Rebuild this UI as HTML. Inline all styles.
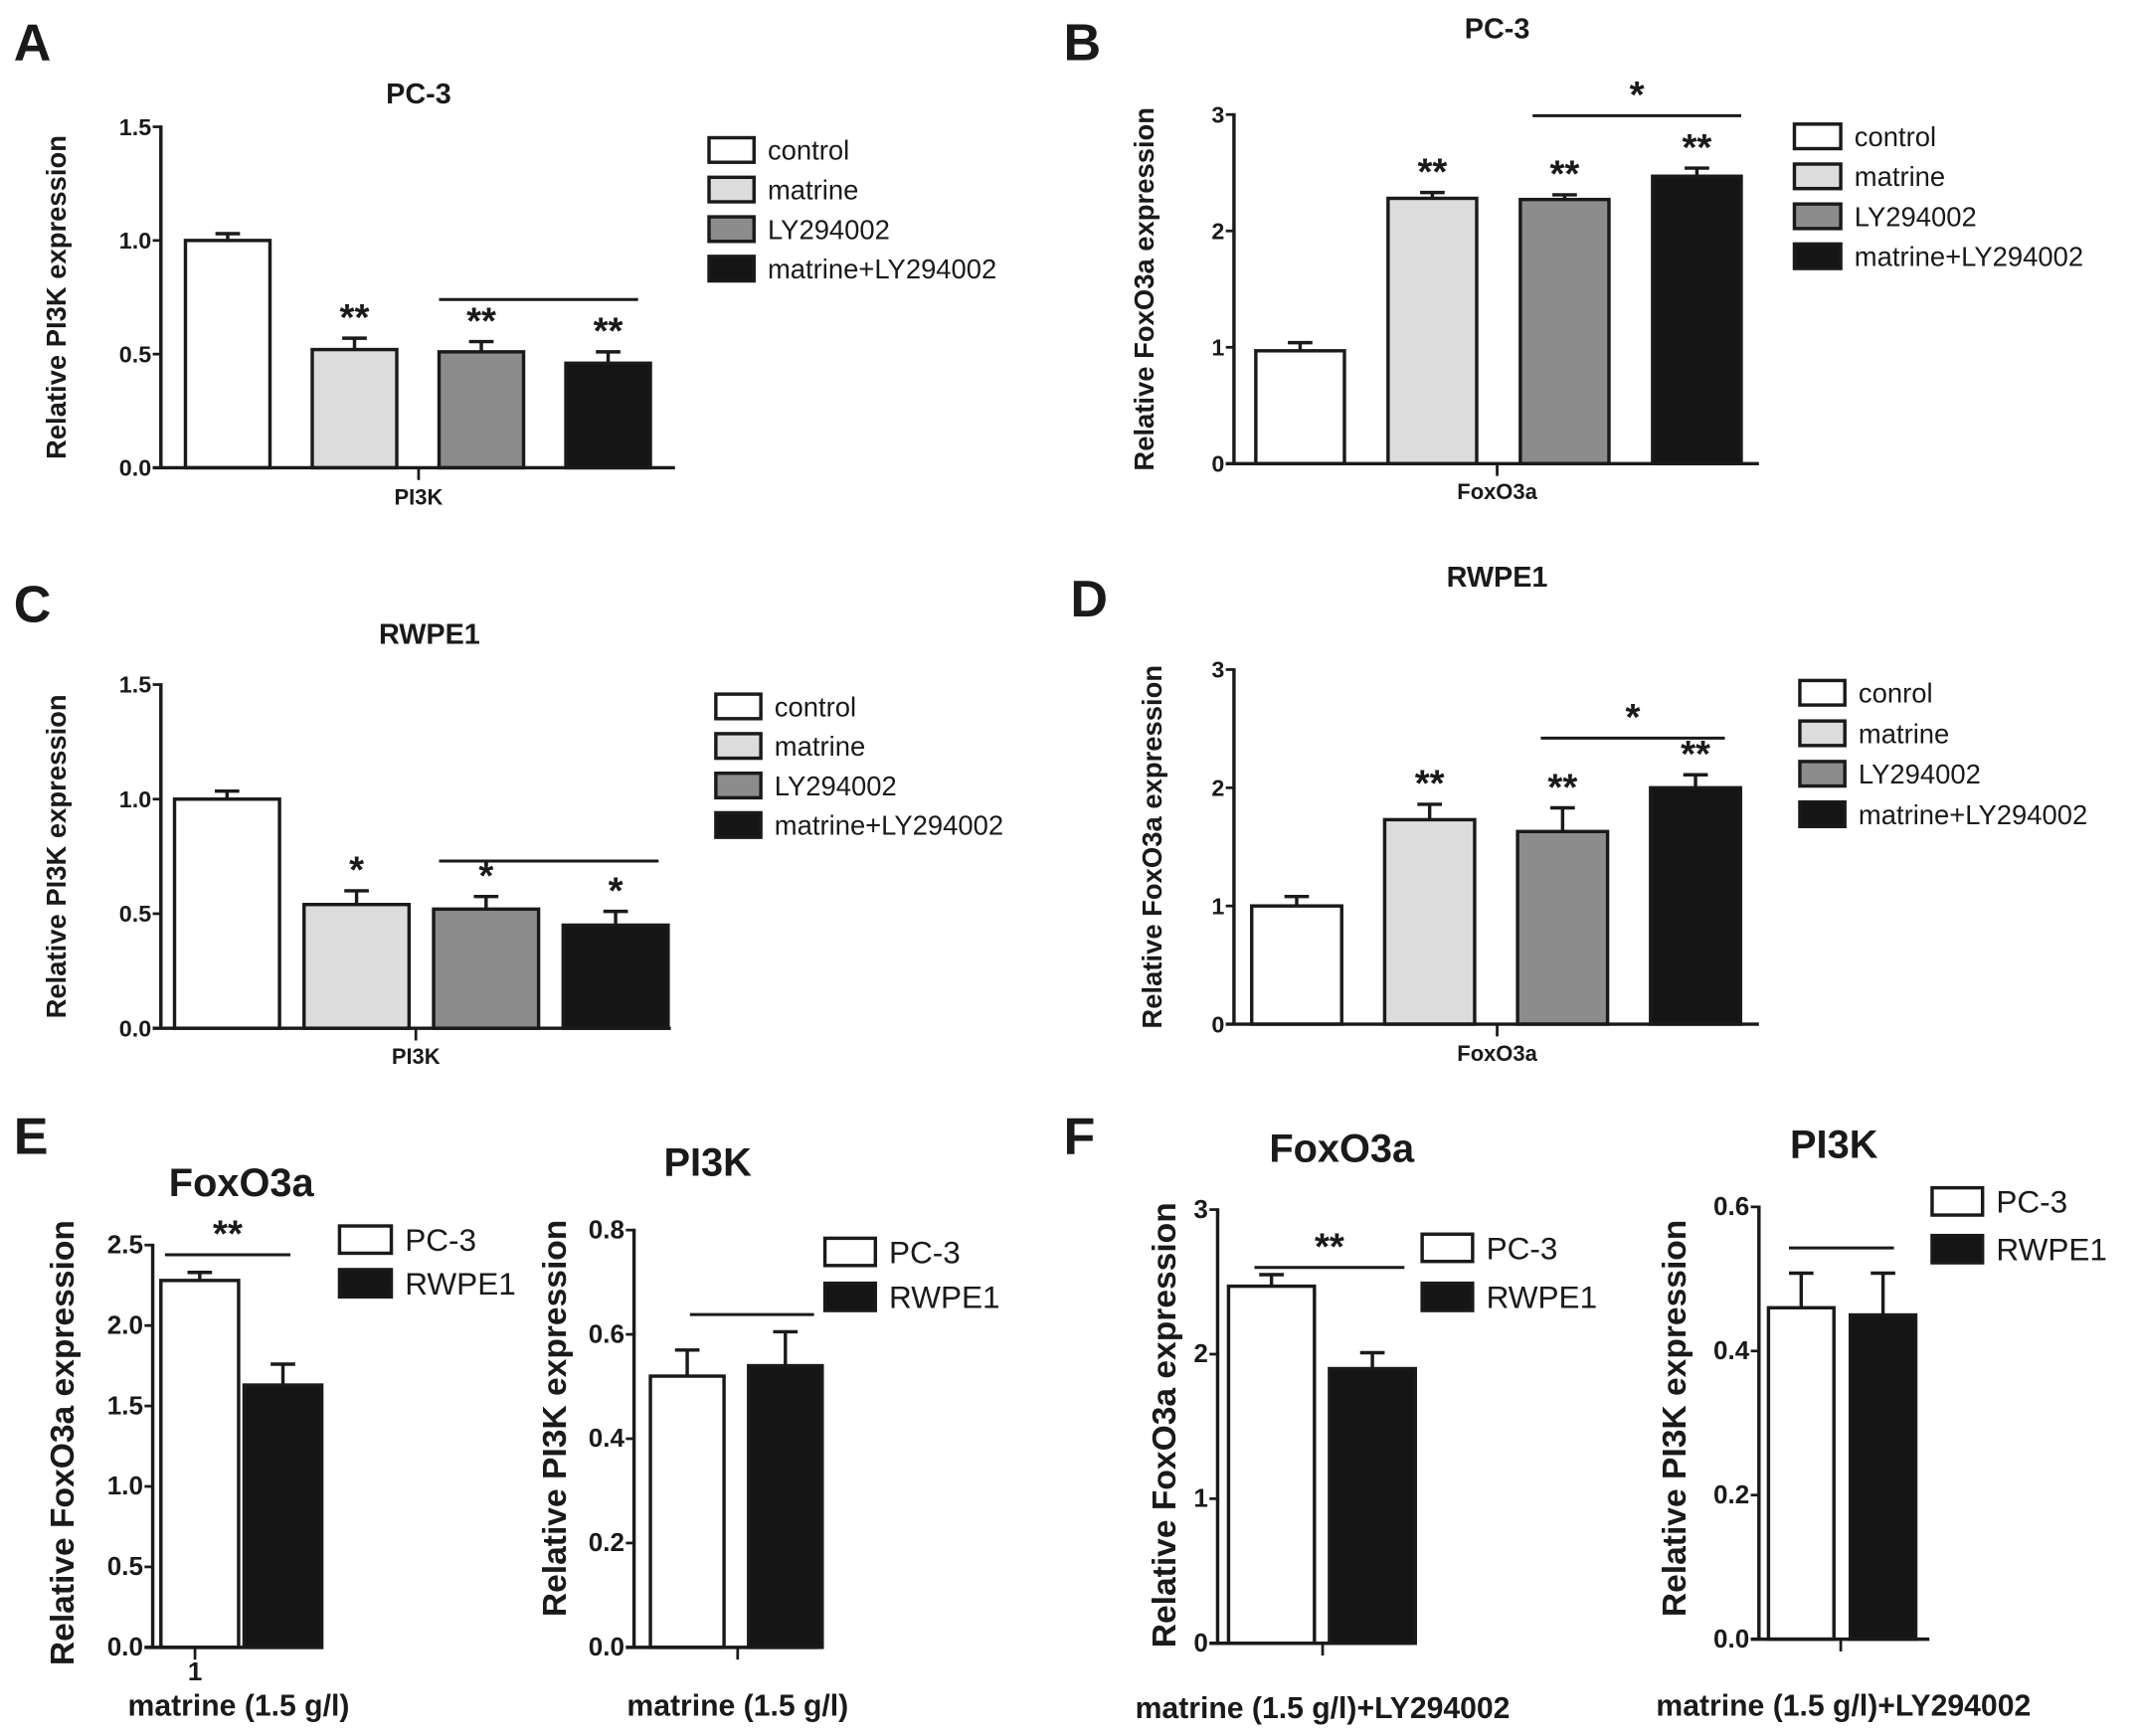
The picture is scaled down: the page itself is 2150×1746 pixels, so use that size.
<!DOCTYPE html>
<html><head><meta charset="utf-8"><style>
html,body{margin:0;padding:0;background:#fff}
svg{display:block}
text{font-family:"Liberation Sans Narrow","Liberation Sans",sans-serif;fill:#1a1a1a}
</style></head><body>
<svg id="fig" width="2150" height="1746" viewBox="0 0 1568 1273" preserveAspectRatio="none" xmlns="http://www.w3.org/2000/svg"></svg>
<script>
// ---------- data ----------
const groupCats = ["control","matrine","LY294002","matrine+LY294002"];
const groupCatsD = ["conrol","matrine","LY294002","matrine+LY294002"];
const cellCats = ["PC-3","RWPE1"];
const groupFills = ["#ffffff","#dcdcdc","#8c8c8c","#151515"];
const cellFills = ["#ffffff","#151515"];

const aValues = [1.0, 0.52, 0.51, 0.46];
const aErrors = [0.03, 0.05, 0.045, 0.05];
const aStars = ["", "**", "**", "**"];
const aTicks = ["0.0","0.5","1.0","1.5"];

const bValues = [0.97, 2.28, 2.27, 2.47];
const bErrors = [0.07, 0.05, 0.04, 0.07];
const bStars = ["", "**", "**", "**"];
const bTicks = ["0","1","2","3"];

const cValues = [1.0, 0.54, 0.52, 0.45];
const cErrors = [0.035, 0.06, 0.055, 0.06];
const cStars = ["", "*", "*", "*"];
const cTicks = ["0.0","0.5","1.0","1.5"];

const dValues = [1.0, 1.73, 1.63, 2.0];
const dErrors = [0.08, 0.13, 0.2, 0.11];
const dStars = ["", "**", "**", "**"];
const dTicks = ["0","1","2","3"];

const e1Values = [2.28, 1.63];
const e1Errors = [0.05, 0.13];
const e1Ticks = ["0.0","0.5","1.0","1.5","2.0","2.5"];
const e2Values = [0.52, 0.54];
const e2Errors = [0.05, 0.065];
const e2Ticks = ["0.0","0.2","0.4","0.6","0.8"];
const f1Values = [2.47, 1.9];
const f1Errors = [0.08, 0.11];
const f1Ticks = ["0","1","2","3"];
const f2Values = [0.46, 0.45];
const f2Errors = [0.048, 0.058];
const f2Ticks = ["0.0","0.2","0.4","0.6"];

// ---------- drawing ----------
const svg = document.getElementById('fig');
const NS = "http://www.w3.org/2000/svg";
function mk(tag, attrs, parent){
  const e = document.createElementNS(NS, tag);
  for (const k in attrs) e.setAttribute(k, attrs[k]);
  (parent||svg).appendChild(e);
  return e;
}
function txt(s, x, y, size, opts, parent){
  const t = mk('text', Object.assign({x:x, y:y, 'font-size':size}, opts||{}), parent);
  t.textContent = s;
  return t;
}

function panel(p){
  const g = mk('g', {});
  
  
  const yMax = parseFloat(p.ticks[p.ticks.length-1]);
  const ys = v => p.y0 - (v / yMax) * (p.y0 - p.yTop);
  const xs = i => p.barX + i * p.step;
  p.values.forEach((v, i) => {
    const x = xs(i), yv = ys(v), ye = ys(v + p.errors[i]), cx = x + p.barW/2;
    const eb = mk('line', {x1:cx, y1:yv, x2:cx, y2:ye, stroke:'#1a1a1a','stroke-width':2.5}, g);
    
    
    const cap = mk('line', {x1:cx-9, y1:ye, x2:cx+9, y2:ye, stroke:'#1a1a1a','stroke-width':2.5}, g);
    
    
    const r = mk('rect', {x:x, y:yv, width:p.barW, height:p.y0-yv, fill:p.fills[i], stroke:'#1a1a1a','stroke-width':2.5}, g);
    
    
    if (p.stars && p.stars[i]) {
      const st = txt(p.stars[i], cx, ye - 6, 28, {'text-anchor':'middle','font-weight':'bold'}, g);
      
      
    }
  });
  const ya = mk('line', {x1:p.axisX, y1:p.yTop-1, x2:p.axisX, y2:p.y0+1, stroke:'#1a1a1a','stroke-width':2.5}, g);
  
  
  const xa = mk('line', {x1:p.axisX-6, y1:p.y0, x2:p.axisEnd, y2:p.y0, stroke:'#1a1a1a','stroke-width':2.5}, g);
  
  
  const xt = mk('line', {x1:p.xTick, y1:p.y0, x2:p.xTick, y2:p.y0+9, stroke:'#1a1a1a','stroke-width':2}, g);
  
  
  p.ticks.forEach(t => {
    const y = ys(parseFloat(t));
    mk('line', {x1:p.axisX-6, y1:y, x2:p.axisX, y2:y, stroke:'#1a1a1a','stroke-width':2}, g);
    const tl = txt(t, p.axisX-7, y+6, p.tickSize, {'text-anchor':'end','font-weight':'bold'}, g);
    
    
  });
  const tt = txt(p.title, p.titleX, p.titleY, p.titleSize, {'text-anchor':'middle','font-weight':'bold'}, g);
  
  
  const yt = txt(p.yTitle, 0, 0, p.yTitleSize, {'text-anchor':'middle','font-weight':'bold','font-family':'Liberation Sans, sans-serif','transform':'translate('+p.yTitleX+','+p.yTitleY+') rotate(-90)'}, g);
  
  
  p.xLabels.forEach(l => {
    const xl = txt(l[0], l[1], l[2], l[3], {'text-anchor':'middle','font-weight':'bold'}, g);
    
    
  });
  if (p.sig) {
    const sl = mk('line', {x1:p.sig.x1, y1:ys(p.sig.v), x2:p.sig.x2, y2:ys(p.sig.v), stroke:'#1a1a1a','stroke-width':2.2}, g);
    
    
    if (p.sig.star) {
      const ss = txt(p.sig.star, (p.sig.x1+p.sig.x2)/2, ys(p.sig.v) - 6, 28, {'text-anchor':'middle','font-weight':'bold'}, g);
      
      
    }
  }
  p.cats.forEach((c, i) => {
    const y = p.legY + i * p.legStep;
    const lr = mk('rect', {x:p.legX, y:y - p.legH/2, width:p.legW, height:p.legH, fill:p.fills[i], stroke:'#1a1a1a','stroke-width':2.5}, g);
    
    
    const lt = txt(c, p.legX + p.legW + 10, y + p.legSize*0.36, p.legSize, {}, g);
    
    
  });
  if (p.letter) {
    const pl = txt(p.letter[0], p.letter[1], p.letter[2], 38, {'font-weight':'bold','font-family':'Liberation Sans, sans-serif'});
    
    
  }
}

panel({name:'panel-a', letter:['A',10,44], cats:groupCats, fills:groupFills, values:aValues, errors:aErrors, stars:aStars, ticks:aTicks,
  axisX:118, y0:343, yTop:93, axisEnd:495, barX:136, barW:62, step:93, xTick:307, tickSize:17,
  title:'PC-3', titleX:307, titleY:76, titleSize:21, yTitle:'Relative PI3K expression', yTitleX:48, yTitleY:218, yTitleSize:20,
  xLabels:[['PI3K',307,370,16]], sig:{x1:322,x2:468,v:0.74},
  legX:520, legY:110, legStep:29, legW:33, legH:18, legSize:20});

panel({name:'panel-b', letter:['B',780,44], cats:groupCats, fills:groupFills, values:bValues, errors:bErrors, stars:bStars, ticks:bTicks,
  axisX:905, y0:340, yTop:84, axisEnd:1290, barX:921, barW:65, step:97, xTick:1098, tickSize:17,
  title:'PC-3', titleX:1098, titleY:28, titleSize:21, yTitle:'Relative FoxO3a expression', yTitleX:846, yTitleY:212, yTitleSize:20,
  xLabels:[['FoxO3a',1098,366,16]], sig:{x1:1124,x2:1277,v:2.99,star:'*'},
  legX:1316, legY:100, legStep:29.3, legW:34, legH:18, legSize:20});

panel({name:'panel-c', letter:['C',10,456], cats:groupCats, fills:groupFills, values:cValues, errors:cErrors, stars:cStars, ticks:cTicks,
  axisX:118, y0:754, yTop:502, axisEnd:492, barX:128, barW:77, step:95, xTick:305, tickSize:17,
  title:'RWPE1', titleX:315, titleY:472, titleSize:21, yTitle:'Relative PI3K expression', yTitleX:48, yTitleY:628, yTitleSize:20,
  xLabels:[['PI3K',305,780,16]], sig:{x1:322,x2:483,v:0.73},
  legX:525, legY:518, legStep:29, legW:33, legH:18, legSize:20});

panel({name:'panel-d', letter:['D',785,452], cats:groupCatsD, fills:groupFills, values:dValues, errors:dErrors, stars:dStars, ticks:dTicks,
  axisX:905, y0:751, yTop:491, axisEnd:1290, barX:918, barW:66, step:97.5, xTick:1098, tickSize:17,
  title:'RWPE1', titleX:1098, titleY:430, titleSize:21, yTitle:'Relative FoxO3a expression', yTitleX:852, yTitleY:621, yTitleSize:20,
  xLabels:[['FoxO3a',1098,778,16]], sig:{x1:1130,x2:1265,v:2.42,star:'*'},
  legX:1320, legY:508, legStep:29.7, legW:33, legH:18, legSize:20});

panel({name:'panel-e-foxo3a', letter:['E',10,846], cats:cellCats, fills:cellFills, values:e1Values, errors:e1Errors, stars:["",""], ticks:e1Ticks,
  axisX:112, y0:1208, yTop:913, axisEnd:237, barX:118, barW:57, step:61, xTick:143, tickSize:19,
  title:'FoxO3a', titleX:177, titleY:877, titleSize:29, yTitle:'Relative FoxO3a expression', yTitleX:54, yTitleY:1058, yTitleSize:24.5,
  xLabels:[['1',143,1232,19],['matrine (1.5 g/l)',175,1258,22]], sig:{x1:121,x2:213,v:2.44,star:'**'},
  legX:249, legY:909, legStep:32, legW:38, legH:20, legSize:23});

panel({name:'panel-e-pi3k', cats:cellCats, fills:cellFills, values:e2Values, errors:e2Errors, stars:["",""], ticks:e2Ticks,
  axisX:465, y0:1208, yTop:902, axisEnd:600, barX:477, barW:54, step:72, xTick:541, tickSize:19,
  title:'PI3K', titleX:519, titleY:862, titleSize:29, yTitle:'Relative PI3K expression', yTitleX:415, yTitleY:1040, yTitleSize:24.5,
  xLabels:[['matrine (1.5 g/l)',541,1258,22]], sig:{x1:506,x2:597,v:0.638},
  legX:605, legY:918, legStep:33, legW:37, legH:20, legSize:23});

panel({name:'panel-f-foxo3a', letter:['F',780,846], cats:cellCats, fills:cellFills, values:f1Values, errors:f1Errors, stars:["",""], ticks:f1Ticks,
  axisX:893, y0:1205, yTop:887, axisEnd:1035, barX:901, barW:63, step:74, xTick:970, tickSize:19,
  title:'FoxO3a', titleX:984, titleY:852, titleSize:29, yTitle:'Relative FoxO3a expression', yTitleX:862, yTitleY:1045, yTitleSize:24.5,
  xLabels:[['matrine (1.5 g/l)+LY294002',970,1260,22]], sig:{x1:920,x2:1030,v:2.6,star:'**'},
  legX:1043, legY:915, legStep:36, legW:37, legH:20, legSize:23});

panel({name:'panel-f-pi3k', cats:cellCats, fills:cellFills, values:f2Values, errors:f2Errors, stars:["",""], ticks:f2Ticks,
  axisX:1290, y0:1202, yTop:885, axisEnd:1415, barX:1297, barW:48, step:60, xTick:1350, tickSize:19,
  title:'PI3K', titleX:1345, titleY:849, titleSize:29, yTitle:'Relative PI3K expression', yTitleX:1236, yTitleY:1040, yTitleSize:24.5,
  xLabels:[['matrine (1.5 g/l)+LY294002',1352,1258,22]], sig:{x1:1312,x2:1389,v:0.543},
  legX:1417, legY:881, legStep:35, legW:37, legH:20, legSize:23});
</script>
</body></html>
